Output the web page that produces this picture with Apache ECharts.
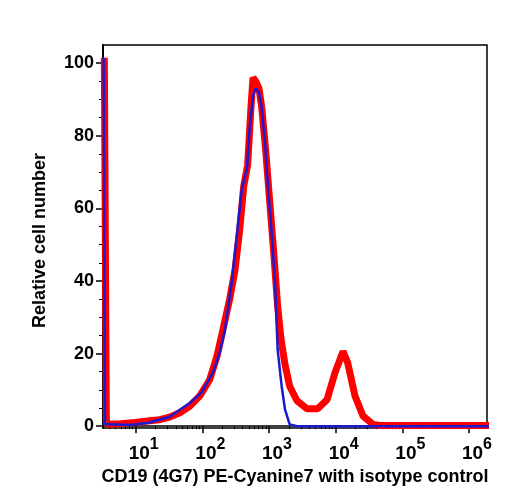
<!DOCTYPE html>
<html>
<head>
<meta charset="utf-8">
<script src="https://cdn.jsdelivr.net/npm/echarts@6/dist/echarts.min.js"></script>
<style>
  html, body { margin: 0; padding: 0; background: #fff; }
  #chart { width: 508px; height: 500px; }
</style>
</head>
<body>
<div id="chart"></div>
<script>
// x values are decade exponents (log10 of fluorescence intensity)
var decades = [1, 2, 3, 4, 5, 6];
var minorSteps = [2, 3, 4, 5, 6, 7, 8, 9];
var yMajor = [0, 20, 40, 60, 80, 100];
var yMinor = [5, 10, 15, 25, 30, 35, 45, 50, 55, 65, 70, 75, 85, 90, 95];

// CD19 PE-Cyanine7 (red)
var redLog = [0.53, 0.56, 0.57, 0.77, 0.99, 1.21, 1.36, 1.51, 1.66, 1.81, 1.96, 2.11, 2.22, 2.31, 2.41, 2.49,
  2.56, 2.62, 2.68, 2.73, 2.76, 2.80, 2.85, 2.89, 2.95, 3.01, 3.07, 3.13, 3.18, 3.24, 3.31, 3.42, 3.57,
  3.73, 3.87, 3.99, 4.11, 4.18, 4.29, 4.41, 4.56, 4.66, 6.30];
var redCount = [101.5, 2, 0.5, 0.7, 1.0, 1.5, 1.8, 2.5, 3.7, 5.5, 8.3, 12.8, 19.3, 26.6, 35, 43,
  54, 66, 72, 88, 96, 95, 93, 88, 76, 62, 48, 33, 24, 17, 11, 7, 4.8,
  4.8, 7.3, 14.7, 20.6, 17.5, 8.3, 2.8, 0.5, 0.2, 0.2];

// isotype control (blue)
var blueLog = [0.52, 0.54, 0.62, 0.92, 1.21, 1.51, 1.81, 1.99, 2.16, 2.26, 2.34, 2.44, 2.52, 2.59, 2.67,
  2.71, 2.76, 2.80, 2.85, 2.89, 2.94, 2.98, 3.03, 3.09, 3.13, 3.19, 3.24, 3.31, 3.42, 6.30];
var blueCount = [101.5, 0.5, 0.5, 0.3, 1.0, 2.6, 6.4, 9.3, 14.8, 20.2, 26.6, 39.5, 53, 65, 71,
  82, 91, 93, 92, 88, 78, 67, 56, 39.5, 21, 11, 4.6, 0.5, 0, 0];

var xMin = 0.51, xMax = 6.27;
var yMin = -0.5, yMax = 105;
var font = 'Liberation Sans, Arial, sans-serif';

function pairs(xs, ys) {
  var out = [];
  for (var i = 0; i < xs.length; i++) out.push([xs[i], ys[i]]);
  return out;
}

var xMinorTicks = [];
for (var d = 0; d <= 6; d++) {
  for (var k = 0; k < minorSteps.length; k++) {
    var v = d + Math.log10(minorSteps[k]);
    if (v > xMin && v < xMax) xMinorTicks.push(v);
  }
}

var myChart = echarts.init(document.getElementById('chart'));
var option = {
  animation: false,
  grid: {
    left: 103, right: 21, top: 45, bottom: 72,
    show: true, borderColor: '#000', borderWidth: 1.5
  },
  xAxis: [{
    type: 'value', min: xMin, max: xMax, position: 'bottom',
    name: 'CD19 (4G7) PE-Cyanine7 with isotype control',
    nameLocation: 'middle', nameGap: 37,
    nameTextStyle: { fontFamily: font, fontWeight: 'bold', fontSize: 18, color: '#000' },
    axisLine: { lineStyle: { color: '#000', width: 1.5 } },
    axisTick: { customValues: decades, length: 7, lineStyle: { color: '#000', width: 1.5 } },
    axisLabel: {
      customValues: decades, margin: 9, color: '#000',
      formatter: function (v) { return '{b|10}{s|' + Math.round(v) + '}'; },
      rich: {
        b: { fontFamily: font, fontWeight: 'bold', fontSize: 19, color: '#000', verticalAlign: 'bottom', padding: [0, 0, 0, 16] },
        s: { fontFamily: font, fontWeight: 'bold', fontSize: 16, color: '#000', verticalAlign: 'top', padding: [0, 0, 10, 0] }
      }
    },
    splitLine: { show: false }
  }, {
    type: 'value', min: xMin, max: xMax, position: 'bottom',
    axisLine: { show: false },
    axisTick: { customValues: xMinorTicks, length: 3, lineStyle: { color: '#000', width: 1 } },
    axisLabel: { show: false },
    splitLine: { show: false }
  }],
  yAxis: [{
    type: 'value', min: yMin, max: yMax, position: 'left',
    name: 'Relative cell number',
    nameLocation: 'middle', nameGap: 54,
    nameTextStyle: { fontFamily: font, fontWeight: 'bold', fontSize: 18, color: '#000', padding: [0, 8, 0, 0] },
    axisLine: { show: true, lineStyle: { color: '#000', width: 2 } },
    axisTick: { customValues: yMajor, length: 7, lineStyle: { color: '#000', width: 1.5 } },
    axisLabel: {
      customValues: yMajor, margin: 9,
      fontFamily: font, fontWeight: 'bold', fontSize: 18, color: '#000'
    },
    splitLine: { show: false }
  }, {
    type: 'value', min: yMin, max: yMax, position: 'left',
    axisLine: { show: false },
    axisTick: { customValues: yMinor, length: 4, lineStyle: { color: '#000', width: 1 } },
    axisLabel: { show: false },
    splitLine: { show: false }
  }],
  series: [{
    name: 'CD19 PE-Cyanine7',
    type: 'line',
    data: pairs(redLog, redCount),
    symbol: 'none',
    lineStyle: { color: '#ff0000', width: 7 },
    z: 2
  }, {
    name: 'Isotype control',
    type: 'line',
    data: pairs(blueLog, blueCount),
    symbol: 'none',
    lineStyle: { color: '#1a1ad2', width: 2.5 },
    z: 3
  }]
};
myChart.setOption(option);
</script>
</body>
</html>
